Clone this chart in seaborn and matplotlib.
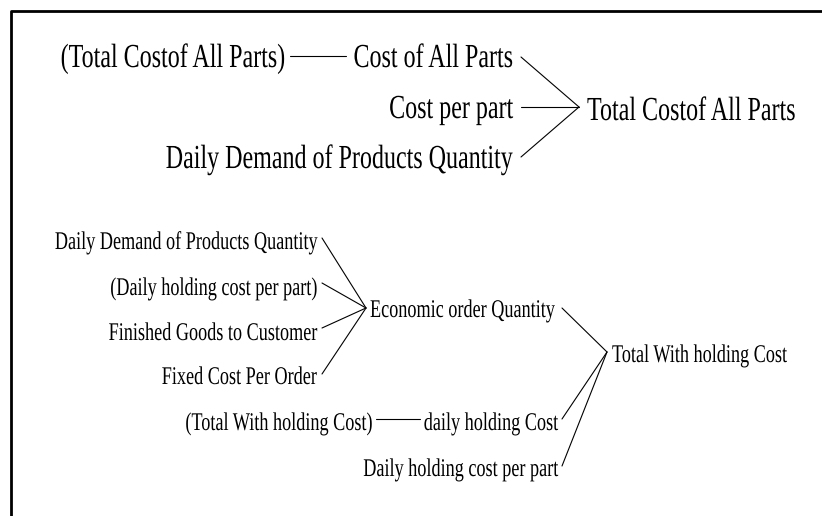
import matplotlib
matplotlib.use("Agg")
import matplotlib.pyplot as plt
import numpy as np
import pandas as pd
import seaborn as sns
from matplotlib.patheffects import AbstractPathEffect
from matplotlib.transforms import Affine2D

# ---------------- data: node labels and links ----------------
top_target = "Total Costof All Parts"
top_shadow = "(Total Costof All Parts)"
top_inputs = ["Cost of All Parts", "Cost per part", "Daily Demand of Products Quantity"]

eoq_node = "Economic order Quantity"
eoq_inputs = ["Daily Demand of Products Quantity", "(Daily holding cost per part)",
              "Finished Goods to Customer", "Fixed Cost Per Order"]

hold_target = "Total With holding Cost"
hold_shadow = "(Total With holding Cost)"
hold_inputs = ["Economic order Quantity", "daily holding Cost", "Daily holding cost per part"]

# ---------------- layout (pixel space) ----------------
W, H = 822, 516
TOP_FS, BOT_FS = 17.3, 13.1
STRETCH = 1.4

top_in_right, top_in_base = 513, [67, 118, 168]
top_in_link_x, top_in_link_y = 521, [57, 107, 157]
top_hub = (579, 107)
top_target_pos = (587, 120)
top_shadow_pos = (285, 67)
top_shadow_link = ((290, 56), (346, 56))

eoq_in_right, eoq_in_base = 316, [249, 295, 340, 384]
eoq_link_x, eoq_link_y = 322, [238, 283, 328, 374]
eoq_hub = (366, 308)
eoq_pos = (370, 317)

hold_in_right, hold_in_base = 557, [None, 430, 476]
hold_link_x, hold_link_y = 562, [308, 419, 466]
hold_hub = (607, 352)
hold_target_pos = (612, 362)
hold_shadow_pos = (371, 430)
hold_shadow_link = ((376, 419), (420, 419))


class Stretch(AbstractPathEffect):
    """Stretch glyphs vertically about their baseline (condensed look)."""
    def __init__(self, sy):
        super().__init__()
        self.sy = sy

    def draw_path(self, renderer, gc, tpath, affine, rgbFace=None):
        ox, oy = affine.transform((0.0, 0.0))
        aff = affine + Affine2D().translate(-ox, -oy).scale(1.0, self.sy).translate(ox, oy)
        renderer.draw_path(gc, tpath, aff, rgbFace)


sns.set_theme(style="white")
plt.rcParams['font.family'] = ['Liberation Serif', 'DejaVu Serif']

fig = plt.figure(figsize=(W / 100, H / 100), dpi=100)
ax = fig.add_axes([0, 0, 1, 1])
ax.set_xlim(0, W)
ax.set_ylim(H, 0)
ax.set_axis_off()

pe = [Stretch(STRETCH)]


def label(x, y, s, fs, ha):
    ax.text(x, y, s, fontsize=fs, ha=ha, va="baseline", color="black",
            path_effects=pe)


# ---------------- links ----------------
rows = []
eid = 0


def add_edge(p, q):
    global eid
    rows.append({"x": p[0], "y": p[1], "edge": eid})
    rows.append({"x": q[0], "y": q[1], "edge": eid})
    eid += 1


for y in top_in_link_y:
    add_edge((top_in_link_x, y), top_hub)
add_edge(*top_shadow_link)
for y in eoq_link_y:
    add_edge((eoq_link_x, y), eoq_hub)
for y in hold_link_y:
    add_edge((hold_link_x, y), hold_hub)
add_edge(*hold_shadow_link)

edges = pd.DataFrame(rows)
sns.lineplot(data=edges, x="x", y="y", units="edge", estimator=None, sort=False,
             color="black", linewidth=0.8, ax=ax, legend=False)

# ---------------- frame (box cut off at the right and bottom) ----------------
frame = pd.DataFrame({"x": [11, 11, W], "y": [H, 11, 11], "edge": [0, 0, 0]})
sns.lineplot(data=frame, x="x", y="y", units="edge", estimator=None, sort=False,
             color="black", linewidth=2.0, ax=ax, legend=False)

# ---------------- labels ----------------
label(*top_shadow_pos, top_shadow, TOP_FS, "right")
for s, b in zip(top_inputs, top_in_base):
    label(top_in_right, b, s, TOP_FS, "right")
label(*top_target_pos, top_target, TOP_FS, "left")

for s, b in zip(eoq_inputs, eoq_in_base):
    label(eoq_in_right, b, s, BOT_FS, "right")
label(*eoq_pos, eoq_node, BOT_FS, "left")

label(*hold_shadow_pos, hold_shadow, BOT_FS, "right")
for s, b in zip(hold_inputs[1:], hold_in_base[1:]):
    label(hold_in_right, b, s, BOT_FS, "right")
label(*hold_target_pos, hold_target, BOT_FS, "left")

ax.set_xlim(0, W)
ax.set_ylim(H, 0)
ax.set_axis_off()

fig.savefig("out.png", dpi=100)
